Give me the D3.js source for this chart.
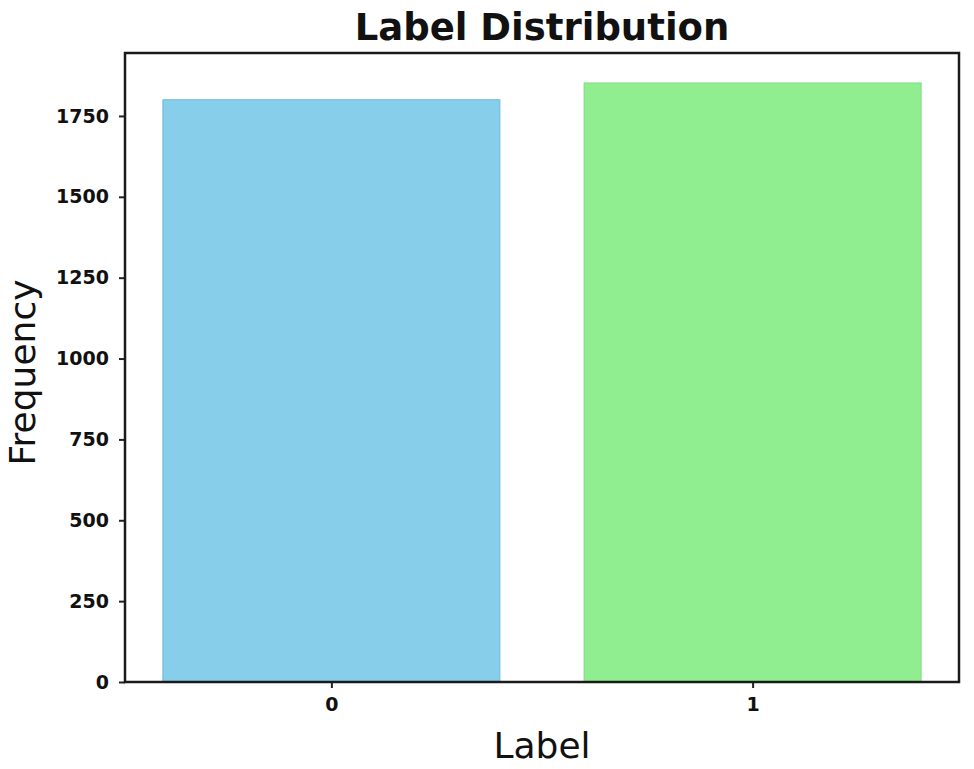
<!DOCTYPE html>
<html>
<head>
<meta charset="utf-8">
<script src="https://cdn.jsdelivr.net/npm/d3@7"></script>
<style>
  body { margin: 0; background: #fff; }
  text { font-family: "DejaVu Sans", sans-serif; }
</style>
</head>
<body>
<svg id="chart" width="974" height="769"></svg>
<script>
// data
const labels = [0, 1];
const counts = [1800, 1852];
const barColors = ["#87ceeb", "#90ee90"];
const barEdges = ["#6bb8d8", "#7fdc80"];
const yTickValues = [0, 250, 500, 750, 1000, 1250, 1500, 1750];

const svg = d3.select("#chart");
const plot = { left: 125, right: 959, top: 53, bottom: 682 };
const barWidth = 0.8;

// matplotlib-like limits: 5% margins
const x = d3.scaleLinear().domain([-0.49, 1.49]).range([plot.left, plot.right]);
const y = d3.scaleLinear().domain([0, d3.max(counts) * 1.05]).range([plot.bottom, plot.top]);

// bars
svg.append("g")
  .selectAll("rect")
  .data(labels)
  .join("rect")
  .attr("x", (d, i) => x(d - barWidth / 2))
  .attr("y", (d, i) => y(counts[i]))
  .attr("width", (d) => x(d + barWidth / 2) - x(d - barWidth / 2))
  .attr("height", (d, i) => y(0) - y(counts[i]))
  .attr("fill", (d, i) => barColors[i])
  .attr("stroke", (d, i) => barEdges[i])
  .attr("stroke-width", 1);

// y axis
const yAxis = svg.append("g")
  .attr("transform", `translate(${plot.left},0)`)
  .call(d3.axisLeft(y).tickValues(yTickValues).tickSize(6).tickPadding(10).tickFormat(d3.format("d")));
yAxis.select(".domain").remove();
yAxis.selectAll("line").attr("stroke", "#222").attr("stroke-width", 2);
yAxis.selectAll("text")
  .attr("font-size", 19)
  .attr("font-weight", "bold")
  .attr("fill", "#111")
  .attr("font-family", "DejaVu Sans, sans-serif");

// x axis
const xAxis = svg.append("g")
  .attr("transform", `translate(0,${plot.bottom})`)
  .call(d3.axisBottom(x).tickValues(labels).tickSize(6).tickPadding(10).tickFormat(d3.format("d")));
xAxis.select(".domain").remove();
xAxis.selectAll("line").attr("stroke", "#222").attr("stroke-width", 2);
xAxis.selectAll("text")
  .attr("font-size", 19)
  .attr("font-weight", "bold")
  .attr("fill", "#111")
  .attr("font-family", "DejaVu Sans, sans-serif");

// frame (spines)
svg.append("rect")
  .attr("x", plot.left)
  .attr("y", plot.top)
  .attr("width", plot.right - plot.left)
  .attr("height", plot.bottom - plot.top)
  .attr("fill", "none")
  .attr("stroke", "#1a1a1a")
  .attr("stroke-width", 2.5);

// title
svg.append("text")
  .attr("x", (plot.left + plot.right) / 2)
  .attr("y", 40)
  .attr("text-anchor", "middle")
  .attr("font-size", 37)
  .attr("font-weight", "bold")
  .attr("fill", "#111")
  .text("Label Distribution");

// axis labels
svg.append("text")
  .attr("x", (plot.left + plot.right) / 2)
  .attr("y", 758)
  .attr("text-anchor", "middle")
  .attr("font-size", 36)
  .attr("fill", "#111")
  .text("Label");

svg.append("text")
  .attr("transform", `translate(35,${(plot.top + plot.bottom) / 2 + 5}) rotate(-90)`)
  .attr("text-anchor", "middle")
  .attr("font-size", 36)
  .attr("fill", "#111")
  .text("Frequency");
</script>
</body>
</html>
